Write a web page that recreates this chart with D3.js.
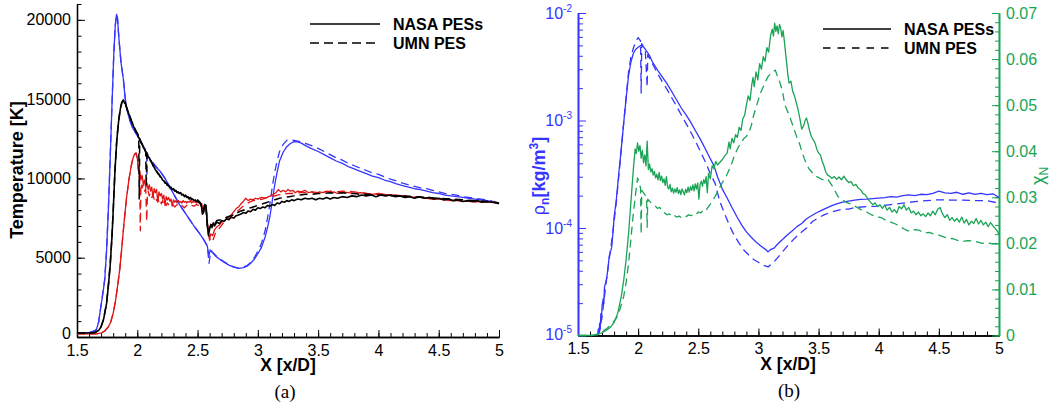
<!DOCTYPE html>
<html>
<head>
<meta charset="utf-8">
<script src="https://cdn.jsdelivr.net/npm/d3@7"></script>
<style>
html,body{margin:0;padding:0;background:#fff;}
svg{display:block;}
text{font-family:"Liberation Sans",Arial,Helvetica,sans-serif;}
</style>
</head>
<body>
<script>
// ---------- Panel (a): temperature along the stagnation line ----------
const xTicks = [1.5, 2, 2.5, 3, 3.5, 4, 4.5, 5];
const xTickLabels = ["1.5", "2", "2.5", "3", "3.5", "4", "4.5", "5"];
const tempTicks = [0, 5000, 10000, 15000, 20000];
const tempTickLabels = ["0", "5000", "10000", "15000", "20000"];

// blue pair (NASA solid / UMN dashed)
const tempBlueNASA = [[1.50,250],[1.56,250],[1.60,270],[1.63,340],[1.66,450],[1.68,950],[1.69,1500],[1.71,2500],[1.73,3600],[1.745,5400],[1.76,8000],[1.775,11200],[1.79,14600],[1.805,17800],[1.817,19600],[1.828,20350],[1.836,20100],[1.848,18800],[1.865,17300],[1.884,16300],[1.90,15000],[1.915,14300],[1.94,13600],[1.96,13200],[1.98,12950],[2.00,12700],[2.03,12300],[2.06,11850],[2.09,11400],[2.12,11050],[2.15,10750],[2.19,10450],[2.23,10000],[2.27,9450],[2.31,8900],[2.35,8350],[2.39,7900],[2.43,7450],[2.47,7000],[2.51,6600],[2.55,6150],[2.58,5750],[2.595,5150],[2.605,5500],[2.62,5350],[2.65,5100],[2.68,4920],[2.72,4720],[2.76,4530],[2.80,4400],[2.84,4330],[2.88,4380],[2.91,4470],[2.94,4650],[2.97,4900],[3.00,5250],[3.03,5650],[3.06,6300],[3.08,6900],[3.10,7600],[3.12,8600],[3.14,9600],[3.16,10400],[3.18,11100],[3.21,11650],[3.24,12000],[3.27,12200],[3.30,12320],[3.33,12300],[3.36,12230],[3.40,12050],[3.44,11900],[3.50,11700],[3.55,11500],[3.60,11300],[3.65,11100],[3.70,10950],[3.75,10750],[3.80,10600],[3.85,10450],[3.90,10300],[3.95,10150],[4.00,10050],[4.05,9900],[4.10,9800],[4.15,9650],[4.20,9550],[4.25,9450],[4.30,9350],[4.35,9300],[4.40,9200],[4.45,9100],[4.50,9050],[4.55,8950],[4.60,8900],[4.65,8850],[4.70,8800],[4.75,8750],[4.80,8700],[4.85,8650],[4.90,8600],[4.95,8520],[5.00,8420]];
const tempBlueUMN = [[1.50,250],[1.56,250],[1.60,270],[1.63,340],[1.66,460],[1.68,960],[1.69,1520],[1.71,2550],[1.73,3650],[1.745,5450],[1.76,8050],[1.775,11250],[1.79,14650],[1.805,17850],[1.817,19650],[1.828,20350],[1.836,20100],[1.848,18800],[1.865,17300],[1.884,16300],[1.90,15050],[1.915,14350],[1.94,13650],[1.96,13250],[1.98,12950],[2.00,12750],[2.03,12350],[2.06,11900],[2.078,11500],[2.08,10100],[2.083,11400],[2.12,11100],[2.15,10800],[2.19,10450],[2.23,10000],[2.27,9450],[2.31,8900],[2.35,8350],[2.39,7900],[2.43,7450],[2.47,7000],[2.51,6600],[2.55,6150],[2.58,5750],[2.595,4650],[2.61,5450],[2.63,5300],[2.65,5150],[2.68,4950],[2.72,4740],[2.76,4550],[2.80,4420],[2.84,4350],[2.88,4400],[2.91,4500],[2.94,4700],[2.97,5000],[3.00,5400],[3.03,5900],[3.06,6700],[3.08,7500],[3.10,8400],[3.12,9500],[3.14,10400],[3.16,11100],[3.18,11700],[3.21,12150],[3.24,12400],[3.27,12450],[3.30,12400],[3.33,12350],[3.36,12300],[3.40,12200],[3.44,12080],[3.50,11900],[3.55,11700],[3.60,11500],[3.65,11300],[3.70,11150],[3.75,10950],[3.80,10800],[3.85,10650],[3.90,10500],[3.95,10350],[4.00,10250],[4.05,10100],[4.10,9950],[4.15,9850],[4.20,9700],[4.25,9600],[4.30,9500],[4.35,9400],[4.40,9350],[4.45,9250],[4.50,9150],[4.55,9050],[4.60,9000],[4.65,8950],[4.70,8850],[4.75,8800],[4.80,8750],[4.85,8700],[4.90,8650],[4.95,8550],[5.00,8450]];

// black pair
const tempBlackNASA = [[1.50,250],[1.60,250],[1.65,290],[1.68,420],[1.70,650],[1.72,1100],[1.745,2100],[1.76,3200],[1.775,4500],[1.79,6300],[1.80,7900],[1.815,10500],[1.83,12400],[1.845,13600],[1.86,14400],[1.872,14780],[1.884,14950],[1.895,14750],[1.90,14800],[1.91,14500],[1.92,14300],[1.93,14050],[1.94,13900],[1.95,13650],[1.96,13500],[1.97,13250],[1.98,13150],[1.99,12950],[2.00,12850],[2.01,12600],[2.02,12500],[2.03,12250],[2.04,12150],[2.05,11950],[2.06,11850],[2.07,11650],[2.08,11600],[2.09,11350],[2.10,11300],[2.11,11100],[2.12,11000],[2.13,10800],[2.14,10700],[2.15,10550],[2.16,10450],[2.17,10300],[2.18,10250],[2.19,10100],[2.20,10050],[2.21,9900],[2.22,9850],[2.23,9700],[2.24,9700],[2.25,9550],[2.26,9550],[2.27,9400],[2.28,9450],[2.29,9300],[2.30,9350],[2.31,9200],[2.32,9250],[2.33,9100],[2.34,9150],[2.35,9050],[2.36,9100],[2.37,8950],[2.38,9000],[2.39,8850],[2.40,8950],[2.41,8800],[2.42,8850],[2.43,8700],[2.44,8800],[2.45,8650],[2.46,8700],[2.47,8600],[2.48,8650],[2.49,8550],[2.50,8600],[2.515,8450],[2.53,8400],[2.54,7750],[2.55,7850],[2.56,8350],[2.57,8300],[2.58,7200],[2.59,6400],[2.60,6800],[2.61,7100],[2.62,6900],[2.63,7200],[2.64,7000],[2.66,7250],[2.68,7150],[2.70,7350],[2.72,7300],[2.74,7450],[2.76,7400],[2.78,7550],[2.80,7500],[2.82,7650],[2.84,7700],[2.86,7750],[2.88,7850],[2.90,7800],[2.92,7950],[2.94,7900],[2.96,8050],[2.98,8000],[3.00,8150],[3.02,8100],[3.04,8200],[3.06,8150],[3.08,8300],[3.10,8250],[3.12,8350],[3.14,8300],[3.16,8450],[3.18,8400],[3.20,8550],[3.22,8500],[3.24,8600],[3.26,8550],[3.28,8650],[3.30,8600],[3.33,8700],[3.36,8650],[3.39,8750],[3.42,8700],[3.45,8750],[3.48,8650],[3.51,8750],[3.54,8700],[3.57,8800],[3.60,8700],[3.63,8800],[3.66,8750],[3.70,8850],[3.74,8800],[3.78,8900],[3.82,8850],[3.86,8950],[3.90,8900],[3.94,8950],[3.98,8850],[4.02,8950],[4.06,8900],[4.10,8950],[4.14,8850],[4.18,8900],[4.22,8800],[4.26,8850],[4.30,8750],[4.34,8850],[4.38,8750],[4.42,8800],[4.46,8700],[4.50,8750],[4.54,8650],[4.58,8700],[4.62,8600],[4.66,8650],[4.70,8550],[4.74,8600],[4.78,8550],[4.82,8600],[4.86,8500],[4.90,8550],[4.94,8500],[4.98,8450],[5.00,8400]];
const tempBlackUMN = [[1.50,250],[1.60,250],[1.65,290],[1.68,420],[1.70,660],[1.72,1120],[1.745,2120],[1.76,3250],[1.775,4550],[1.79,6350],[1.80,7950],[1.815,10550],[1.83,12450],[1.845,13650],[1.86,14450],[1.872,14800],[1.884,14950],[1.90,14700],[1.92,14250],[1.94,13850],[1.96,13450],[1.98,13100],[2.00,12850],[2.012,12650],[2.016,8700],[2.02,12500],[2.04,12150],[2.06,11900],[2.07,11700],[2.074,9500],[2.08,11600],[2.10,11300],[2.12,11000],[2.14,10750],[2.16,10450],[2.18,10250],[2.20,10050],[2.22,9850],[2.24,9700],[2.26,9550],[2.28,9450],[2.30,9300],[2.32,9200],[2.34,9100],[2.36,9050],[2.38,8950],[2.40,8900],[2.42,8800],[2.44,8750],[2.46,8700],[2.48,8650],[2.50,8650],[2.52,8500],[2.54,7900],[2.55,7950],[2.56,8400],[2.57,8250],[2.58,7000],[2.59,6600],[2.60,6900],[2.62,7200],[2.64,7100],[2.66,7350],[2.70,7400],[2.74,7550],[2.78,7650],[2.82,7800],[2.86,7950],[2.90,8050],[2.94,8150],[2.98,8250],[3.02,8350],[3.06,8450],[3.10,8550],[3.14,8650],[3.18,8750],[3.22,8800],[3.26,8850],[3.30,8900],[3.35,8950],[3.40,9000],[3.45,9000],[3.50,9050],[3.55,9050],[3.60,9100],[3.65,9050],[3.70,9100],[3.75,9050],[3.80,9050],[3.85,9000],[3.90,9000],[4.00,8950],[4.10,8900],[4.20,8900],[4.30,8850],[4.40,8800],[4.50,8750],[4.60,8700],[4.70,8650],[4.80,8600],[4.90,8550],[5.00,8450]];

// red pair
const tempRedNASA = [[1.50,200],[1.65,200],[1.70,240],[1.73,380],[1.76,640],[1.78,950],[1.80,1500],[1.82,2300],[1.84,3400],[1.855,4300],[1.87,5500],[1.89,7200],[1.91,8700],[1.93,9900],[1.95,10800],[1.965,11300],[1.98,11550],[1.99,11600],[2.00,11300],[2.008,10600],[2.015,10300],[2.02,10500],[2.03,9900],[2.04,10200],[2.05,9600],[2.06,9900],[2.07,9400],[2.08,9700],[2.09,9300],[2.10,9600],[2.11,9200],[2.12,9450],[2.13,8800],[2.14,9350],[2.15,9100],[2.16,9300],[2.17,8500],[2.18,9150],[2.19,8900],[2.20,9050],[2.21,8700],[2.22,8950],[2.23,8300],[2.24,8850],[2.25,8650],[2.26,8800],[2.27,8550],[2.28,8700],[2.29,8250],[2.30,8650],[2.31,8500],[2.32,8600],[2.33,8450],[2.34,8600],[2.35,8500],[2.36,8550],[2.37,8450],[2.38,8600],[2.39,8500],[2.40,8550],[2.41,8450],[2.42,8550],[2.43,8500],[2.44,8600],[2.45,8450],[2.46,8550],[2.47,8500],[2.48,8550],[2.49,8450],[2.50,8500],[2.52,8450],[2.535,8400],[2.545,7800],[2.555,8300],[2.57,8250],[2.58,7300],[2.59,6500],[2.60,6200],[2.61,6500],[2.625,6400],[2.64,6750],[2.66,6950],[2.68,7050],[2.70,7250],[2.72,7300],[2.74,7450],[2.76,7600],[2.78,7700],[2.80,7900],[2.82,8100],[2.84,8200],[2.86,8400],[2.88,8550],[2.90,8750],[2.92,8600],[2.94,8700],[2.96,8650],[2.98,8750],[3.00,8700],[3.03,8800],[3.06,8750],[3.09,8850],[3.12,8950],[3.15,9100],[3.17,9300],[3.19,9150],[3.21,9250],[3.23,9150],[3.25,9300],[3.27,9200],[3.29,9250],[3.31,9100],[3.33,9200],[3.36,9150],[3.39,9250],[3.42,9100],[3.45,9150],[3.48,9050],[3.51,9150],[3.54,9100],[3.57,9200],[3.60,9100],[3.63,9150],[3.66,9050],[3.70,9150],[3.75,9100],[3.80,9050],[3.85,9100],[3.90,9050],[3.95,9000],[4.00,9050],[4.05,9000],[4.10,8950],[4.15,8950],[4.20,8900],[4.25,8850],[4.30,8800],[4.35,8800],[4.40,8750],[4.45,8700],[4.50,8700],[4.55,8650],[4.60,8600],[4.65,8600],[4.70,8550],[4.75,8550],[4.80,8500],[4.85,8550],[4.90,8500],[4.95,8500],[5.00,8450]];
const tempRedUMN = [[1.50,200],[1.65,200],[1.70,240],[1.73,380],[1.76,640],[1.78,950],[1.80,1500],[1.82,2300],[1.84,3400],[1.855,4300],[1.87,5500],[1.89,7200],[1.91,8700],[1.93,9900],[1.95,10800],[1.965,11300],[1.98,11550],[1.99,11600],[2.00,11250],[2.01,10500],[2.02,9900],[2.025,6700],[2.03,9700],[2.04,9400],[2.05,9600],[2.06,9200],[2.07,9350],[2.078,7300],[2.085,9100],[2.09,9200],[2.10,8900],[2.11,9100],[2.12,8800],[2.13,8950],[2.14,8700],[2.15,8850],[2.16,8600],[2.17,8750],[2.18,8500],[2.19,8650],[2.20,8400],[2.21,8600],[2.22,8350],[2.23,8500],[2.24,8300],[2.25,8450],[2.27,8250],[2.29,8400],[2.31,8200],[2.33,8350],[2.35,8200],[2.37,8300],[2.39,8150],[2.41,8300],[2.43,8200],[2.45,8300],[2.47,8250],[2.49,8350],[2.51,8300],[2.53,8400],[2.545,8000],[2.555,8300],[2.57,8100],[2.585,6900],[2.60,6100],[2.615,6350],[2.63,6150],[2.645,6500],[2.66,6700],[2.68,6850],[2.70,7050],[2.72,7250],[2.75,7400],[2.78,7600],[2.81,7800],[2.84,8000],[2.87,8200],[2.90,8350],[2.93,8500],[2.96,8600],[3.00,8650],[3.04,8700],[3.08,8800],[3.12,8850],[3.16,8950],[3.20,9000],[3.25,9050],[3.30,9050],[3.35,9100],[3.40,9100],[3.45,9150],[3.50,9100],[3.55,9150],[3.60,9200],[3.65,9150],[3.70,9200],[3.75,9200],[3.80,9150],[3.85,9100],[3.90,9050],[4.00,9000],[4.10,8950],[4.20,8900],[4.30,8850],[4.40,8750],[4.50,8700],[4.60,8650],[4.70,8600],[4.80,8550],[4.90,8500],[5.00,8480]];

// ---------- Panel (b): N density (log, left) and N mole fraction (right) ----------
const rhoTicks = [1e-5, 1e-4, 1e-3, 1e-2];
const rhoTickExponents = ["-5", "-4", "-3", "-2"];
const chiTicks = [0, 0.01, 0.02, 0.03, 0.04, 0.05, 0.06, 0.07];
const chiTickLabels = ["0", "0.01", "0.02", "0.03", "0.04", "0.05", "0.06", "0.07"];

const rhoNASA = [[1.66,1.0e-5],[1.67,1.15e-5],[1.675,1.05e-5],[1.68,1.3e-5],[1.685,1.15e-5],[1.69,1.6e-5],[1.695,1.4e-5],[1.70,1.9e-5],[1.71,2.2e-5],[1.715,2.0e-5],[1.72,2.8e-5],[1.73,3.1e-5],[1.74,3.5e-5],[1.75,4.3e-5],[1.76,5.5e-5],[1.77,6.0e-5],[1.78,6.6e-5],[1.79,8.8e-5],[1.80,1.25e-4],[1.82,1.9e-4],[1.84,3.3e-4],[1.86,5.5e-4],[1.88,9.5e-4],[1.90,1.6e-3],[1.92,2.6e-3],[1.94,3.5e-3],[1.96,4.2e-3],[1.98,4.6e-3],[2.00,4.8e-3],[2.03,5.05e-3],[2.06,4.6e-3],[2.09,4.1e-3],[2.12,3.5e-3],[2.16,2.95e-3],[2.20,2.55e-3],[2.24,2.2e-3],[2.28,1.85e-3],[2.32,1.55e-3],[2.36,1.3e-3],[2.40,1.12e-3],[2.44,9.5e-4],[2.48,7.9e-4],[2.52,6.6e-4],[2.56,5.4e-4],[2.60,4.4e-4],[2.63,3.8e-4],[2.66,3.0e-4],[2.70,2.3e-4],[2.74,1.9e-4],[2.78,1.55e-4],[2.82,1.28e-4],[2.86,1.07e-4],[2.90,9.2e-5],[2.94,8.2e-5],[2.98,7.4e-5],[3.02,6.8e-5],[3.06,6.3e-5],[3.08,6.0e-5],[3.10,6.3e-5],[3.13,6.5e-5],[3.16,7.1e-5],[3.20,7.8e-5],[3.24,8.6e-5],[3.28,9.4e-5],[3.32,1.03e-4],[3.36,1.1e-4],[3.40,1.22e-4],[3.44,1.3e-4],[3.48,1.38e-4],[3.52,1.45e-4],[3.56,1.52e-4],[3.60,1.6e-4],[3.65,1.68e-4],[3.70,1.74e-4],[3.75,1.78e-4],[3.80,1.82e-4],[3.85,1.85e-4],[3.90,1.86e-4],[3.95,1.88e-4],[4.00,1.9e-4],[4.05,1.92e-4],[4.10,1.96e-4],[4.15,1.94e-4],[4.20,2.0e-4],[4.25,2.03e-4],[4.30,2.0e-4],[4.35,2.06e-4],[4.40,2.04e-4],[4.45,2.1e-4],[4.50,2.2e-4],[4.55,2.12e-4],[4.60,2.1e-4],[4.65,2.15e-4],[4.70,2.06e-4],[4.75,2.12e-4],[4.80,2.05e-4],[4.85,2.1e-4],[4.90,2.04e-4],[4.95,2.08e-4],[5.00,1.92e-4]];
const rhoUMN = [[1.66,1.0e-5],[1.68,1.1e-5],[1.70,1.5e-5],[1.72,2.3e-5],[1.74,3.5e-5],[1.76,5.2e-5],[1.78,7.5e-5],[1.80,1.15e-4],[1.82,1.8e-4],[1.84,3.1e-4],[1.86,5.4e-4],[1.88,9.5e-4],[1.90,1.65e-3],[1.92,2.8e-3],[1.94,3.9e-3],[1.96,4.7e-3],[1.98,5.4e-3],[2.00,5.9e-3],[2.02,5.5e-3],[2.025,1.8e-3],[2.03,5.2e-3],[2.06,4.4e-3],[2.075,2.05e-3],[2.08,4.1e-3],[2.10,3.7e-3],[2.13,3.2e-3],[2.16,2.75e-3],[2.20,2.3e-3],[2.24,1.95e-3],[2.28,1.62e-3],[2.32,1.35e-3],[2.36,1.12e-3],[2.40,9.3e-4],[2.44,7.7e-4],[2.48,6.3e-4],[2.52,5.1e-4],[2.56,4.1e-4],[2.60,3.2e-4],[2.64,2.6e-4],[2.68,1.75e-4],[2.72,1.35e-4],[2.76,1.05e-4],[2.80,8.5e-5],[2.84,7.2e-5],[2.88,6.2e-5],[2.92,5.6e-5],[2.96,5.1e-5],[3.00,4.8e-5],[3.04,4.5e-5],[3.08,4.35e-5],[3.12,4.7e-5],[3.16,5.3e-5],[3.20,6.0e-5],[3.25,7.0e-5],[3.30,8.0e-5],[3.35,9.0e-5],[3.40,1.0e-4],[3.45,1.15e-4],[3.50,1.25e-4],[3.55,1.33e-4],[3.60,1.4e-4],[3.65,1.45e-4],[3.70,1.5e-4],[3.75,1.5e-4],[3.80,1.55e-4],[3.90,1.58e-4],[4.00,1.6e-4],[4.10,1.65e-4],[4.20,1.7e-4],[4.30,1.76e-4],[4.40,1.8e-4],[4.50,1.83e-4],[4.60,1.82e-4],[4.70,1.82e-4],[4.80,1.8e-4],[4.90,1.8e-4],[5.00,1.7e-4]];

const chiNASA = [[1.50,0],[1.60,0],[1.66,0.0002],[1.70,0.0006],[1.74,0.0012],[1.77,0.0018],[1.80,0.0028],[1.83,0.0048],[1.86,0.0085],[1.88,0.012],[1.90,0.0165],[1.92,0.022],[1.94,0.029],[1.96,0.036],[1.975,0.0405],[1.985,0.0395],[1.995,0.0418],[2.005,0.040],[2.015,0.0412],[2.025,0.0385],[2.035,0.0402],[2.045,0.0375],[2.055,0.0392],[2.065,0.0368],[2.075,0.0422],[2.085,0.036],[2.095,0.0372],[2.105,0.0355],[2.115,0.0362],[2.125,0.0348],[2.135,0.0356],[2.145,0.0342],[2.155,0.0350],[2.165,0.0338],[2.175,0.0354],[2.185,0.0336],[2.195,0.0346],[2.205,0.0332],[2.215,0.0340],[2.225,0.0326],[2.235,0.0345],[2.245,0.0322],[2.255,0.0318],[2.265,0.0328],[2.275,0.0312],[2.285,0.0320],[2.295,0.0309],[2.305,0.0318],[2.315,0.0311],[2.325,0.0321],[2.335,0.0308],[2.345,0.0316],[2.355,0.0306],[2.365,0.0318],[2.375,0.0312],[2.385,0.0305],[2.395,0.0317],[2.405,0.0310],[2.415,0.0322],[2.425,0.0311],[2.435,0.0323],[2.445,0.0315],[2.455,0.0327],[2.465,0.0314],[2.475,0.0329],[2.485,0.0318],[2.495,0.0331],[2.505,0.0296],[2.515,0.0328],[2.525,0.0335],[2.535,0.0324],[2.545,0.0338],[2.555,0.0330],[2.565,0.0345],[2.575,0.0310],[2.585,0.0352],[2.60,0.0340],[2.615,0.0368],[2.63,0.0362],[2.645,0.0378],[2.66,0.0370],[2.68,0.0376],[2.70,0.0382],[2.72,0.0390],[2.74,0.0396],[2.755,0.0420],[2.765,0.0405],[2.78,0.0428],[2.795,0.0418],[2.81,0.0436],[2.825,0.0430],[2.84,0.0452],[2.855,0.0445],[2.87,0.0470],[2.885,0.0478],[2.90,0.0500],[2.915,0.0520],[2.93,0.0510],[2.945,0.0545],[2.955,0.0560],[2.965,0.0540],[2.98,0.0572],[2.995,0.0555],[3.01,0.0590],[3.025,0.0578],[3.04,0.0605],[3.055,0.0595],[3.07,0.0625],[3.085,0.0615],[3.10,0.0650],[3.115,0.0665],[3.125,0.0650],[3.135,0.0678],[3.145,0.0660],[3.155,0.0672],[3.165,0.0655],[3.175,0.0675],[3.185,0.0668],[3.195,0.0648],[3.205,0.0662],[3.215,0.0640],[3.225,0.0615],[3.235,0.0590],[3.245,0.0565],[3.255,0.0548],[3.27,0.0552],[3.285,0.0530],[3.30,0.0520],[3.315,0.0505],[3.33,0.0490],[3.345,0.0470],[3.36,0.0448],[3.375,0.0455],[3.39,0.0468],[3.40,0.0472],[3.41,0.0462],[3.425,0.0445],[3.44,0.0432],[3.455,0.0425],[3.47,0.0418],[3.485,0.0405],[3.50,0.0396],[3.515,0.0392],[3.53,0.0378],[3.545,0.0368],[3.56,0.0355],[3.575,0.0348],[3.59,0.0346],[3.61,0.0341],[3.63,0.0345],[3.65,0.0339],[3.67,0.0344],[3.69,0.0338],[3.71,0.0346],[3.73,0.0338],[3.75,0.0332],[3.77,0.0334],[3.79,0.0325],[3.81,0.0328],[3.83,0.0320],[3.85,0.0316],[3.87,0.0308],[3.89,0.0305],[3.91,0.0296],[3.93,0.0290],[3.95,0.0284],[3.97,0.0288],[3.99,0.0280],[4.01,0.0284],[4.03,0.0276],[4.05,0.0283],[4.07,0.0272],[4.09,0.0278],[4.11,0.0268],[4.13,0.0273],[4.15,0.0266],[4.17,0.0280],[4.19,0.0275],[4.21,0.0284],[4.23,0.0272],[4.25,0.0278],[4.27,0.0266],[4.29,0.0270],[4.31,0.0262],[4.33,0.0268],[4.35,0.0260],[4.37,0.0264],[4.39,0.0258],[4.41,0.0266],[4.43,0.0260],[4.45,0.0270],[4.47,0.0262],[4.49,0.0274],[4.51,0.0278],[4.53,0.0264],[4.55,0.0256],[4.57,0.0262],[4.59,0.0250],[4.61,0.0256],[4.63,0.0248],[4.65,0.0254],[4.67,0.0246],[4.69,0.0257],[4.71,0.0244],[4.73,0.0252],[4.75,0.0240],[4.77,0.0248],[4.79,0.0243],[4.81,0.0254],[4.83,0.0242],[4.85,0.0250],[4.87,0.0240],[4.89,0.0246],[4.91,0.0236],[4.93,0.0245],[4.95,0.0238],[4.97,0.0232],[4.99,0.0225],[5.00,0.0218]];
const chiUMN = [[1.50,0],[1.62,0],[1.66,0.0003],[1.70,0.0008],[1.74,0.0015],[1.78,0.0025],[1.82,0.0038],[1.85,0.0058],[1.88,0.0085],[1.90,0.0115],[1.92,0.0155],[1.94,0.021],[1.96,0.0265],[1.98,0.031],[1.995,0.0342],[2.01,0.0330],[2.02,0.032],[2.025,0.022],[2.03,0.0315],[2.05,0.0308],[2.07,0.0300],[2.075,0.0235],[2.08,0.0296],[2.10,0.0290],[2.12,0.0285],[2.14,0.0282],[2.16,0.0276],[2.18,0.0278],[2.20,0.0268],[2.22,0.0266],[2.24,0.0262],[2.26,0.0264],[2.28,0.0258],[2.30,0.0261],[2.32,0.0257],[2.34,0.0259],[2.36,0.0256],[2.38,0.0260],[2.40,0.0258],[2.42,0.0262],[2.44,0.0260],[2.46,0.0264],[2.48,0.0262],[2.50,0.0268],[2.52,0.0266],[2.54,0.0272],[2.56,0.0270],[2.58,0.0278],[2.60,0.0285],[2.62,0.0293],[2.64,0.0302],[2.66,0.0312],[2.68,0.0322],[2.70,0.0332],[2.72,0.0340],[2.74,0.0350],[2.76,0.0362],[2.78,0.0375],[2.80,0.0390],[2.82,0.0402],[2.84,0.0412],[2.86,0.0420],[2.88,0.0428],[2.90,0.0432],[2.92,0.0440],[2.94,0.0455],[2.96,0.0478],[2.98,0.0495],[3.00,0.0512],[3.02,0.0528],[3.04,0.0540],[3.06,0.0552],[3.08,0.0562],[3.10,0.0568],[3.12,0.0572],[3.14,0.0576],[3.16,0.0562],[3.18,0.0548],[3.20,0.0530],[3.22,0.0500],[3.24,0.0488],[3.26,0.0475],[3.28,0.0460],[3.30,0.0445],[3.32,0.0430],[3.34,0.0418],[3.36,0.0400],[3.38,0.0385],[3.40,0.0372],[3.42,0.0362],[3.44,0.0356],[3.46,0.0350],[3.48,0.0345],[3.50,0.0343],[3.52,0.0340],[3.54,0.0338],[3.56,0.0336],[3.58,0.0338],[3.60,0.0330],[3.62,0.0322],[3.64,0.0312],[3.66,0.0302],[3.68,0.0297],[3.70,0.0294],[3.74,0.0288],[3.78,0.0284],[3.82,0.0278],[3.86,0.0272],[3.90,0.0268],[3.94,0.0262],[3.98,0.0258],[4.02,0.0256],[4.06,0.0250],[4.10,0.0246],[4.14,0.0242],[4.18,0.0236],[4.22,0.0230],[4.26,0.0226],[4.30,0.0230],[4.34,0.0228],[4.38,0.0222],[4.42,0.0224],[4.46,0.0220],[4.50,0.0218],[4.54,0.0214],[4.58,0.0211],[4.62,0.0210],[4.66,0.0206],[4.70,0.0204],[4.74,0.0206],[4.78,0.0205],[4.82,0.0203],[4.86,0.0200],[4.90,0.0202],[4.94,0.0199],[5.00,0.0200]];

const legendNames = ["NASA PESs", "UMN PES"];

// ---------- drawing ----------
const W = 1059, H = 408;
const BLUE = "#3535ff", RED = "#e01414", BLACK = "#000000", GREEN = "#1aa456";
const DASH = "8,5";

const svg = d3.select("body").append("svg").attr("width", W).attr("height", H);

function addClip(id, x0, y0, x1, y1) {
  svg.append("clipPath").attr("id", id).append("rect")
    .attr("x", x0).attr("y", y0).attr("width", x1 - x0).attr("height", y1 - y0);
}

function styleAxis(g, color, width) {
  g.attr("font-size", null).attr("font-family", null);
  g.select(".domain").attr("stroke", color).attr("stroke-width", width);
  g.selectAll(".tick line").attr("stroke", color).attr("stroke-width", 1);
  g.selectAll(".tick text").attr("fill", color).style("font-size", "16px");
}

function drawLine(g, data, x, y, color, dashed, clipId, width) {
  g.append("path")
    .datum(data)
    .attr("clip-path", `url(#${clipId})`)
    .attr("fill", "none")
    .attr("stroke", color)
    .attr("stroke-width", width)
    .attr("stroke-linejoin", "round")
    .attr("stroke-dasharray", dashed ? DASH : null)
    .attr("d", d3.line().x(d => x(d[0])).y(d => y(d[1])));
}

const xMinor = d3.range(15, 51).map(d => d / 10);

// ===== panel (a) =====
const xa = d3.scaleLinear().domain([1.5, 5]).range([77, 499]);
const ya = d3.scaleLinear().domain([0, 21000]).range([337, 4]);
addClip("clipA", 77, 0, 501, 339);
const gA = svg.append("g");

gA.append("g").attr("transform", "translate(0,337)")
  .call(d3.axisBottom(xa).tickValues(xMinor).tickSize(-4).tickSizeOuter(0).tickFormat(""))
  .call(g => styleAxis(g, BLACK, 1.3));
gA.append("g").attr("transform", "translate(0,337)")
  .call(d3.axisBottom(xa).tickValues(xTicks).tickSize(-7).tickSizeOuter(0).tickPadding(8)
    .tickFormat((d, i) => xTickLabels[i]))
  .call(g => styleAxis(g, BLACK, 1.3));
gA.append("g").attr("transform", "translate(77,0)")
  .call(d3.axisLeft(ya).tickValues(d3.range(0, 21001, 1000)).tickSize(-4.5).tickSizeOuter(0).tickFormat(""))
  .call(g => styleAxis(g, BLACK, 1.3));
gA.append("g").attr("transform", "translate(77,0)")
  .call(d3.axisLeft(ya).tickValues(tempTicks).tickSize(-8).tickSizeOuter(0).tickPadding(6)
    .tickFormat((d, i) => tempTickLabels[i]))
  .call(g => styleAxis(g, BLACK, 1.3))
  // the zero label sits just above the x-axis labels in the corner
  .call(g => g.selectAll(".tick text").filter(d => d === 0).attr("dy", "0.1em"));

[[tempBlueNASA, BLUE, false, 1.3], [tempBlueUMN, BLUE, true, 1.3],
 [tempRedNASA, RED, false, 1.3], [tempRedUMN, RED, true, 1.3],
 [tempBlackNASA, BLACK, false, 1.6], [tempBlackUMN, BLACK, true, 1.5]]
  .forEach(([d, c, dash, w]) => drawLine(gA, d, xa, ya, c, dash, "clipA", w));

gA.append("text").attr("x", 288).attr("y", 371).attr("text-anchor", "middle")
  .style("font-size", "17.5px").style("font-weight", "bold").text("X [x/D]");
gA.append("text").attr("transform", "translate(23,170) rotate(-90)").attr("text-anchor", "middle")
  .style("font-size", "18px").style("font-weight", "bold").text("Temperature [K]");
gA.append("text").attr("x", 285).attr("y", 398).attr("text-anchor", "middle")
  .style("font-family", "'Liberation Serif','Times New Roman',serif").style("font-size", "19px").text("(a)");

// legend: solid / dashed samples with the two PES names
function legend(g, x0, x1, tx, y1, y2, dash) {
  g.append("line").attr("x1", x0).attr("x2", x1).attr("y1", y1).attr("y2", y1)
    .attr("stroke", BLACK).attr("stroke-width", 1.4);
  g.append("line").attr("x1", x0).attr("x2", x1).attr("y1", y2).attr("y2", y2)
    .attr("stroke", BLACK).attr("stroke-width", 1.4).attr("stroke-dasharray", dash);
  g.append("text").attr("x", tx).attr("y", y1 + 6).style("font-size", "16px")
    .style("font-weight", "bold").text(legendNames[0]);
  g.append("text").attr("x", tx).attr("y", y2 + 5.5).style("font-size", "16px")
    .style("font-weight", "bold").text(legendNames[1]);
}
legend(gA, 310, 380, 393, 24, 43, "9,5");

// ===== panel (b) =====
const xb = d3.scaleLinear().domain([1.5, 5]).range([578, 999]);
const yb = d3.scaleLog().domain([1e-5, 1e-2]).range([335.5, 13]);
const yc = d3.scaleLinear().domain([0, 0.07]).range([335.5, 13]);
addClip("clipB", 577, 10, 1001, 337.5);
const gB = svg.append("g");

gB.append("g").attr("transform", "translate(0,335.5)")
  .call(d3.axisBottom(xb).tickValues(xMinor).tickSize(-4).tickSizeOuter(0).tickFormat(""))
  .call(g => styleAxis(g, BLACK, 1.3));
gB.append("g").attr("transform", "translate(0,335.5)")
  .call(d3.axisBottom(xb).tickValues(xTicks).tickSize(-7).tickSizeOuter(0).tickPadding(7)
    .tickFormat((d, i) => xTickLabels[i]))
  .call(g => styleAxis(g, BLACK, 1.3));

const rhoMinor = [];
[-5, -4, -3].forEach(e => { for (let k = 2; k <= 9; k++) rhoMinor.push(k * Math.pow(10, e)); });
gB.append("g").attr("transform", "translate(578,0)")
  .call(d3.axisLeft(yb).tickValues(rhoMinor).tickSize(-5).tickSizeOuter(0).tickFormat(""))
  .call(g => styleAxis(g, BLUE, 1.6));
gB.append("g").attr("transform", "translate(578,0)")
  .call(d3.axisLeft(yb).tickValues(rhoTicks).tickSize(-8).tickSizeOuter(0).tickFormat(""))
  .call(g => styleAxis(g, BLUE, 1.6));
rhoTicks.forEach((v, i) => {
  const t = gB.append("text").attr("x", 572).attr("y", yb(v) + (i === 0 ? 4 : 5.5)).attr("text-anchor", "end")
    .attr("fill", BLUE).style("font-size", "16px");
  t.append("tspan").text("10");
  t.append("tspan").attr("dy", -7).style("font-size", "10px").text(rhoTickExponents[i]);
});

gB.append("g").attr("transform", "translate(999,0)")
  .call(d3.axisRight(yc).tickValues(d3.range(0, 36).map(d => d * 0.002)).tickSize(-4).tickSizeOuter(0).tickFormat(""))
  .call(g => styleAxis(g, GREEN, 1.6));
gB.append("g").attr("transform", "translate(999,0)")
  .call(d3.axisRight(yc).tickValues(chiTicks).tickSize(-7).tickSizeOuter(0).tickPadding(7)
    .tickFormat((d, i) => chiTickLabels[i]))
  .call(g => styleAxis(g, GREEN, 1.6));

[[rhoNASA, BLUE, false, yb], [rhoUMN, BLUE, true, yb],
 [chiNASA, GREEN, false, yc], [chiUMN, GREEN, true, yc]]
  .forEach(([d, c, dash, y]) => drawLine(gB, d, xb, y, c, dash, "clipB", 1.3));

gB.append("text").attr("x", 788).attr("y", 369.5).attr("text-anchor", "middle")
  .style("font-size", "17.5px").style("font-weight", "bold").text("X [x/D]");

const rhoLabel = gB.append("text").attr("transform", "translate(545,176) rotate(-90)")
  .attr("text-anchor", "middle").attr("fill", BLUE).style("font-size", "18px").style("font-weight", "bold");
rhoLabel.append("tspan").style("font-weight", "normal").text("ρ");
rhoLabel.append("tspan").attr("dy", 4).style("font-size", "12px").text("n");
rhoLabel.append("tspan").attr("dy", -4).text("[kg/m");
rhoLabel.append("tspan").attr("dy", -7).style("font-size", "12px").text("3");
rhoLabel.append("tspan").attr("dy", 7).text("]");

const chiLabel = gB.append("text").attr("transform", "translate(1044,176) rotate(-90)")
  .attr("text-anchor", "middle").attr("fill", GREEN).style("font-size", "18px");
chiLabel.append("tspan").text("χ");
chiLabel.append("tspan").attr("dy", 4).style("font-size", "12px").text("N");

gB.append("text").attr("x", 789).attr("y", 397).attr("text-anchor", "middle")
  .style("font-family", "'Liberation Serif','Times New Roman',serif").style("font-size", "19px").text("(b)");

legend(gB, 823, 891, 904, 29, 48, "7.5,7");
</script>
</body>
</html>
